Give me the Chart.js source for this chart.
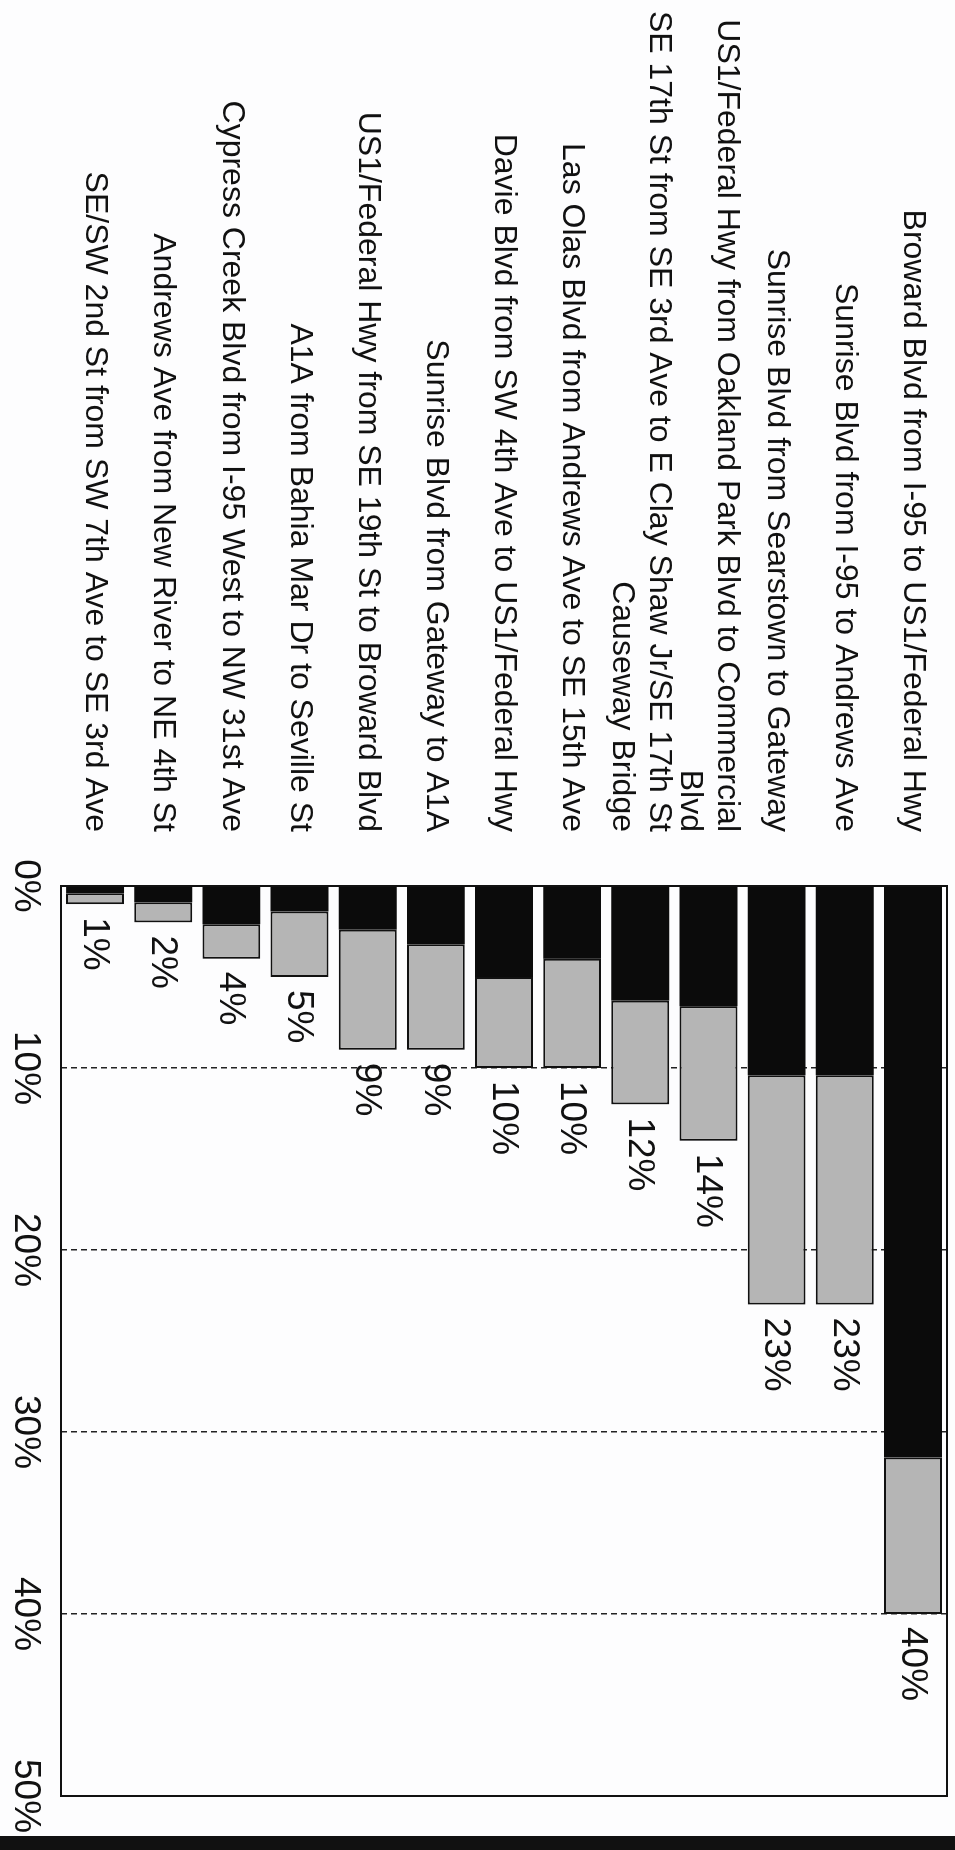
<!DOCTYPE html>
<html>
<head>
<meta charset="utf-8">
<title>Share of corridor trips</title>
<script src="https://cdn.jsdelivr.net/npm/chart.js@4/dist/chart.umd.min.js"></script>
<style>
  html, body { margin: 0; padding: 0; background: #fdfdfe; }
  body { width: 955px; height: 1850px; overflow: hidden; position: relative; }
  /* the chart is laid out as a horizontal bar chart and turned a quarter turn clockwise */
  #frame {
    position: absolute; left: 0; top: 0;
    width: 1850px; height: 955px;
    transform-origin: 0 0;
    transform: translateX(955px) rotate(90deg);
  }
  #edge { position: absolute; left: 0; right: 0; bottom: 0; height: 14px; background: #111; }
</style>
</head>
<body>
<div id="frame"><canvas id="chart" width="1850" height="955"></canvas></div>
<div id="edge"></div>
<script>
// Corridors, top to bottom
const categories = [
  "Broward Blvd from I-95 to US1/Federal Hwy",
  "Sunrise Blvd from I-95 to Andrews Ave",
  "Sunrise Blvd from Searstown to Gateway",
  ["US1/Federal Hwy from Oakland Park Blvd to Commercial", "Blvd"],
  ["SE 17th St from SE 3rd Ave to E Clay Shaw Jr/SE 17th St", "Causeway Bridge"],
  "Las Olas Blvd from Andrews Ave to SE 15th Ave",
  "Davie Blvd from SW 4th Ave to US1/Federal Hwy",
  "Sunrise Blvd from Gateway to A1A",
  "US1/Federal Hwy from SE 19th St to Broward Blvd",
  "A1A from Bahia Mar Dr to Seville St",
  "Cypress Creek Blvd from I-95 West to NW 31st Ave",
  "Andrews Ave from New River to NE 4th St",
  "SE/SW 2nd St from SW 7th Ave to SE 3rd Ave"
];

// Total share per corridor (%), as labelled at the bar ends
const totalShare = [40, 23, 23, 14, 12, 10, 10, 9, 9, 5, 4, 2, 1];

// Dark inner portion of each bar (%)
const darkShare = [31.4, 10.4, 10.4, 6.6, 6.3, 4.0, 5.0, 3.2, 2.4, 1.4, 2.1, 0.9, 0.4];

// Value axis ticks (%)
const axisTicks = [0, 10, 20, 30, 40, 50];

const FONT = '"Liberation Sans", Arial, Helvetica, sans-serif';

// Grey segment runs from the end of the dark part to the total
const lightRanges = categories.map((_, i) => [darkShare[i], totalShare[i]]);

const frameAndLabels = {
  id: 'frameAndLabels',
  afterDatasetsDraw(chart) {
    const { ctx, chartArea } = chart;
    ctx.save();
    // value labels at the end of each bar
    ctx.fillStyle = '#111';
    ctx.font = '37px ' + FONT;
    ctx.textAlign = 'left';
    ctx.textBaseline = 'middle';
    chart.getDatasetMeta(1).data.forEach((bar, i) => {
      ctx.fillText(totalShare[i] + '%', bar.x + 13, bar.y + 1);
    });
    // plot frame
    ctx.strokeStyle = '#111';
    ctx.lineWidth = 2;
    ctx.strokeRect(chartArea.left, chartArea.top, chartArea.right - chartArea.left, chartArea.bottom - chartArea.top);
    ctx.restore();
  }
};

new Chart(document.getElementById('chart'), {
  type: 'bar',
  data: {
    labels: categories,
    datasets: [
      {
        label: 'Dark',
        data: darkShare,
        backgroundColor: '#0b0b0b',
        borderWidth: 0,
        grouped: false,
        barPercentage: 0.85,
        categoryPercentage: 1.0
      },
      {
        label: 'Light',
        data: lightRanges,
        backgroundColor: '#b5b5b5',
        borderColor: '#111',
        borderWidth: 2,
        borderSkipped: false,
        grouped: false,
        barPercentage: 0.85,
        categoryPercentage: 1.0
      }
    ]
  },
  options: {
    indexAxis: 'y',
    responsive: false,
    animation: false,
    devicePixelRatio: 1,
    layout: { padding: { left: 0, right: 54, top: 8, bottom: 0 } },
    plugins: {
      legend: { display: false },
      tooltip: { enabled: false },
      title: { display: false }
    },
    scales: {
      x: {
        type: 'linear',
        position: 'bottom',
        min: axisTicks[0],
        max: axisTicks[axisTicks.length - 1],
        afterBuildTicks(scale) { scale.ticks = axisTicks.map(v => ({ value: v })); },
        grid: { color: '#222', lineWidth: 1.5, drawTicks: false },
        border: { display: false, dash: [6, 4] },
        ticks: {
          color: '#111',
          font: { family: FONT, size: 37 },
          padding: 14,
          maxRotation: 0,
          autoSkip: false,
          callback: v => v + '%'
        },
        afterFit(scale) {
          scale.height = 61;
          scale.paddingLeft = 0;
          scale.paddingRight = 0;
        }
      },
      y: {
        type: 'category',
        position: 'left',
        grid: { display: false, drawTicks: false },
        border: { display: false },
        ticks: {
          color: '#111',
          font: { family: FONT, size: 32, lineHeight: 1.15 },
          padding: 54,
          autoSkip: false
        },
        afterFit(scale) {
          scale.width = 886;
          scale.paddingTop = 0;
          scale.paddingBottom = 0;
        }
      }
    }
  },
  plugins: [frameAndLabels]
});
</script>
</body>
</html>
